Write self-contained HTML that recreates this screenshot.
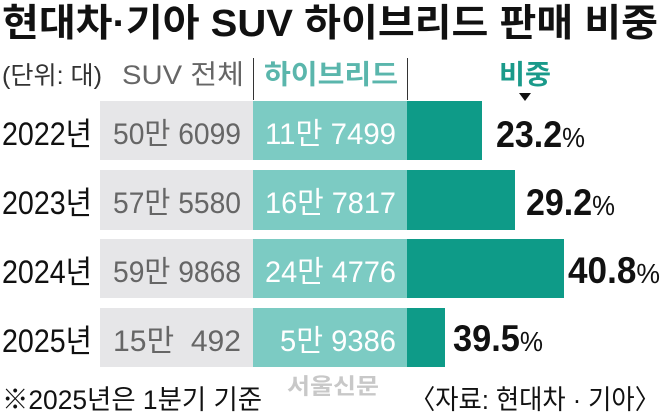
<!DOCTYPE html>
<html><head><meta charset="utf-8"><style>
body{margin:0;background:#fff}
svg{display:block}
text{font-family:"Liberation Sans","Noto Sans CJK KR",sans-serif}
</style></head><body>
<svg width="661" height="414" viewBox="0 0 661 414">
<text x="2" y="36" font-size="38" font-weight="bold" fill="#111" textLength="656" lengthAdjust="spacingAndGlyphs">현대차·기아 SUV 하이브리드 판매 비중</text>
<text x="2" y="84" font-size="25" fill="#333" textLength="100" lengthAdjust="spacingAndGlyphs">(단위: 대)</text>
<text x="122" y="84" font-size="27" fill="#666" textLength="122" lengthAdjust="spacingAndGlyphs">SUV 전체</text>
<line x1="253.5" y1="58" x2="253.5" y2="100" stroke="#333" stroke-width="1"/>
<text x="264" y="84" font-size="27" font-weight="bold" fill="#5ab6ac" textLength="134" lengthAdjust="spacingAndGlyphs">하이브리드</text>
<line x1="407.5" y1="58" x2="407.5" y2="100" stroke="#333" stroke-width="1"/>
<text x="499" y="84" font-size="27" font-weight="bold" fill="#1a9a8a" textLength="52" lengthAdjust="spacingAndGlyphs">비중</text>
<polygon points="519,93 531,93 525,101" fill="#111"/>

<g>
<rect x="100" y="101" width="153" height="59" fill="#e6e6e8"/>
<rect x="253" y="101" width="154" height="59" fill="#7ccbc3"/>
<rect x="407" y="101" width="75" height="59" fill="#0e9b88"/>
<text x="2" y="145" font-size="32" fill="#111" textLength="90" lengthAdjust="spacingAndGlyphs">2022년</text>
<text x="113" y="144" font-size="30" fill="#666" textLength="128" lengthAdjust="spacingAndGlyphs">50만 6099</text>
<text x="265" y="144" font-size="30" fill="#fff" textLength="131" lengthAdjust="spacingAndGlyphs">11만 7499</text>
<text x="496" y="147" font-size="37" font-weight="bold" fill="#111" textLength="89" lengthAdjust="spacingAndGlyphs">23.2<tspan font-weight="normal" font-size="28">%</tspan></text>
</g>
<g>
<rect x="100" y="170" width="153" height="60" fill="#e6e6e8"/>
<rect x="253" y="170" width="154" height="60" fill="#7ccbc3"/>
<rect x="407" y="170" width="108" height="60" fill="#0e9b88"/>
<text x="2" y="214" font-size="32" fill="#111" textLength="90" lengthAdjust="spacingAndGlyphs">2023년</text>
<text x="113" y="213" font-size="30" fill="#666" textLength="128" lengthAdjust="spacingAndGlyphs">57만 5580</text>
<text x="265" y="213" font-size="30" fill="#fff" textLength="131" lengthAdjust="spacingAndGlyphs">16만 7817</text>
<text x="526" y="215" font-size="37" font-weight="bold" fill="#111" textLength="89" lengthAdjust="spacingAndGlyphs">29.2<tspan font-weight="normal" font-size="28">%</tspan></text>
</g>
<g>
<rect x="100" y="239" width="153" height="59" fill="#e6e6e8"/>
<rect x="253" y="239" width="154" height="59" fill="#7ccbc3"/>
<rect x="407" y="239" width="157" height="59" fill="#0e9b88"/>
<text x="2" y="283" font-size="32" fill="#111" textLength="90" lengthAdjust="spacingAndGlyphs">2024년</text>
<text x="113" y="282" font-size="30" fill="#666" textLength="128" lengthAdjust="spacingAndGlyphs">59만 9868</text>
<text x="265" y="282" font-size="30" fill="#fff" textLength="131" lengthAdjust="spacingAndGlyphs">24만 4776</text>
<text x="568" y="283" font-size="37" font-weight="bold" fill="#111" textLength="92" lengthAdjust="spacingAndGlyphs">40.8<tspan font-weight="normal" font-size="28">%</tspan></text>
</g>
<g>
<rect x="100" y="308" width="153" height="59" fill="#e6e6e8"/>
<rect x="253" y="308" width="154" height="59" fill="#7ccbc3"/>
<rect x="407" y="308" width="38" height="59" fill="#0e9b88"/>
<text x="2" y="352" font-size="32" fill="#111" textLength="90" lengthAdjust="spacingAndGlyphs">2025년</text>
<text x="113" y="351" font-size="30" fill="#666" textLength="128" lengthAdjust="spacingAndGlyphs">15만 &#160;492</text>
<text x="280" y="351" font-size="30" fill="#fff" textLength="116" lengthAdjust="spacingAndGlyphs">5만 9386</text>
<text x="453" y="351" font-size="37" font-weight="bold" fill="#111" textLength="90" lengthAdjust="spacingAndGlyphs">39.5<tspan font-weight="normal" font-size="28">%</tspan></text>
</g>
<text x="287" y="394" font-size="22" font-weight="bold" fill="#c8c8c8" textLength="92" lengthAdjust="spacingAndGlyphs">서울신문</text>
<text x="2" y="409" font-size="27" fill="#111" textLength="260" lengthAdjust="spacingAndGlyphs">※2025년은 1분기 기준</text>
<text x="410" y="409" font-size="27" fill="#111" textLength="250" lengthAdjust="spacingAndGlyphs">〈자료: 현대차 · 기아〉</text>
</svg>
</body></html>
